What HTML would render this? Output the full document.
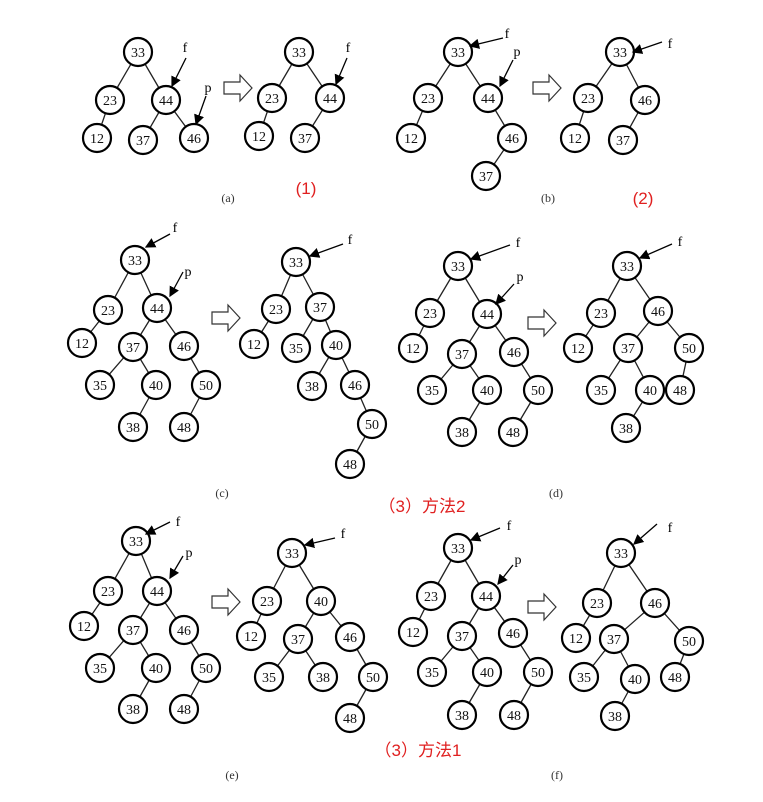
<!DOCTYPE html>
<html><head><meta charset="utf-8"><style>
html,body{margin:0;padding:0;background:#fff}
svg{display:block}
text{font-family:"Liberation Serif",serif}
</style></head><body>
<svg id="s" width="763" height="802" viewBox="0 0 763 802">
<defs><marker id="ah" markerWidth="8" markerHeight="8" refX="7" refY="4" orient="auto"><path d="M0,0 L8,4 L0,8 z" fill="#000"/></marker></defs>
</svg>
<script>
const NS='http://www.w3.org/2000/svg';
const svg=document.getElementById('s');
const trees=[
 {n:'tree-a-before',nodes:[['33',138,52],['23',110,100],['44',166,100],['12',97,138],['37',143,140],['46',194,138]],e:[[0,1],[0,2],[1,3],[2,4],[2,5]]},
 {n:'tree-a-after',nodes:[['33',299,52],['23',272,98],['44',330,98],['12',259,136],['37',305,138]],e:[[0,1],[0,2],[1,3],[2,4]]},
 {n:'tree-b-before',nodes:[['33',458,52],['23',428,98],['44',488,98],['12',411,138],['46',512,138],['37',486,176]],e:[[0,1],[0,2],[1,3],[2,4],[4,5]]},
 {n:'tree-b-after',nodes:[['33',620,52],['23',588,98],['46',645,100],['12',575,138],['37',623,140]],e:[[0,1],[0,2],[1,3],[2,4]]},
 {n:'tree-c-before',nodes:[['33',135,260],['23',108,310],['44',157,308],['12',82,343],['37',133,347],['46',184,346],['35',100,385],['40',156,385],['50',206,385],['38',133,427],['48',184,427]],e:[[0,1],[0,2],[1,3],[2,4],[2,5],[4,6],[4,7],[5,8],[7,9],[8,10]]},
 {n:'tree-c-after',nodes:[['33',296,262],['23',276,309],['37',320,307],['12',254,344],['35',296,348],['40',336,345],['38',312,386],['46',355,385],['50',372,424],['48',350,464]],e:[[0,1],[0,2],[1,3],[2,4],[2,5],[5,6],[5,7],[7,8],[8,9]]},
 {n:'tree-d-before',nodes:[['33',458,266],['23',430,313],['44',487,314],['12',413,348],['37',462,354],['46',514,352],['35',432,390],['40',487,390],['50',538,390],['38',462,432],['48',513,432]],e:[[0,1],[0,2],[1,3],[2,4],[2,5],[4,6],[4,7],[5,8],[7,9],[8,10]]},
 {n:'tree-d-after',nodes:[['33',627,266],['23',601,313],['46',658,311],['12',578,348],['37',628,348],['50',689,348],['35',601,390],['40',650,390],['48',680,390],['38',626,428]],e:[[0,1],[0,2],[1,3],[2,4],[2,5],[4,6],[4,7],[5,8],[7,9]]},
 {n:'tree-e-before',nodes:[['33',136,541],['23',108,591],['44',157,591],['12',84,626],['37',133,630],['46',184,630],['35',100,668],['40',156,668],['50',206,668],['38',133,709],['48',184,709]],e:[[0,1],[0,2],[1,3],[2,4],[2,5],[4,6],[4,7],[5,8],[7,9],[8,10]]},
 {n:'tree-e-after',nodes:[['33',292,553],['23',267,601],['40',321,601],['12',251,636],['37',298,639],['46',350,637],['35',269,677],['38',323,677],['50',373,677],['48',350,718]],e:[[0,1],[0,2],[1,3],[2,4],[2,5],[4,6],[4,7],[5,8],[8,9]]},
 {n:'tree-f-before',nodes:[['33',458,548],['23',431,596],['44',486,596],['12',413,632],['37',462,636],['46',513,633],['35',432,672],['40',487,672],['50',538,672],['38',462,715],['48',514,715]],e:[[0,1],[0,2],[1,3],[2,4],[2,5],[4,6],[4,7],[5,8],[7,9],[8,10]]},
 {n:'tree-f-after',nodes:[['33',621,553],['23',597,603],['46',655,603],['12',576,638],['37',614,639],['50',689,641],['35',584,677],['40',635,679],['48',675,677],['38',615,716]],e:[[0,1],[0,2],[1,3],[2,4],[2,5],[4,6],[4,7],[5,8],[7,9]]}
];
const pointers=[
 ['f',185,52,186,58,172,86],['p',208,92,206,96,196,124],['f',348,52,347,58,336,84],
 ['f',507,38,503,38,470,46],['p',517,56,513,60,500,86],['f',670,48,662,42,633,52],
 ['f',175,232,170,234,146,247],['p',188,276,183,272,170,296],['f',350,244,343,244,310,256],
 ['f',518,247,510,245,471,259],['p',520,281,514,284,496,304],['f',680,246,672,244,640,258],
 ['f',178,526,170,522,146,534],['p',189,557,183,556,170,578],['f',343,538,335,538,305,545],
 ['f',509,530,500,528,471,540],['p',518,564,513,565,498,584],['f',670,532,657,524,634,544]
];
const bigArrows=[[224,88],[533,88],[212,318],[528,323],[212,602],[528,607]];
const captions=[['(a)',228,202],['(b)',548,202],['(c)',222,497],['(d)',556,497],['(e)',232,779],['(f)',557,779]];
const redLabels=[['(1)',306,194],['(2)',643,204],['（3）方法2',422,512],['（3）方法1',418,756]];
function el(t,a){const e=document.createElementNS(NS,t);for(const k in a)e.setAttribute(k,a[k]);svg.appendChild(e);return e;}
trees.forEach(t=>{
 const g=el('g',{});
 
 
 t.e.forEach(([a,b])=>{
  const A=t.nodes[a],B=t.nodes[b];
  const l=el('line',{x1:A[1],y1:A[2],x2:B[1],y2:B[2],stroke:'#222','stroke-width':1.3});
  
  
 });
 t.nodes.forEach(([lab,x,y])=>{
  const c=el('circle',{cx:x,cy:y,r:14,fill:'#fff',stroke:'#000','stroke-width':2.2});
  
  
  const tx=el('text',{x:x,y:y+5,'text-anchor':'middle','font-size':14,fill:'#111'});
  tx.textContent=lab;
  
  
 });
});
pointers.forEach(p=>{
 const l=el('line',{x1:p[3],y1:p[4],x2:p[5],y2:p[6],stroke:'#000','stroke-width':1.3,'marker-end':'url(#ah)'});
 
 
 const t=el('text',{x:p[1],y:p[2],'font-size':14,'text-anchor':'middle'});
 t.textContent=p[0];
 
 
});
bigArrows.forEach(([x,y])=>{
 const pth=el('path',{d:`M${x},${y-6} h16 v-7 l12,13 l-12,13 v-7 h-16 z`,fill:'#fff',stroke:'#333','stroke-width':1.2});
 
 
});
captions.forEach(([s,x,y])=>{
 const t=el('text',{x:x,y:y,'font-size':12,'text-anchor':'middle',fill:'#333'});
 t.textContent=s;
 
 
});
redLabels.forEach(([s,x,y])=>{
 const t=el('text',{x:x,y:y,'font-size':17,'text-anchor':'middle',fill:'#e02020'});
 t.style.fontFamily='"Liberation Sans","Noto Sans CJK SC",sans-serif';
 t.textContent=s;
 
 
});
</script>
</body></html>
